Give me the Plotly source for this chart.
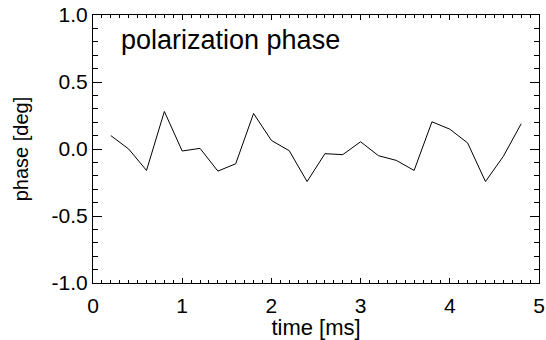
import plotly.graph_objects as go

time_ms = [0.2, 0.4, 0.6, 0.8, 1.0, 1.2, 1.4, 1.6, 1.8, 2.0, 2.2, 2.4,
           2.6, 2.8, 3.0, 3.2, 3.4, 3.6, 3.8, 4.0, 4.2, 4.4, 4.6, 4.8]
phase_deg = [0.10, 0.00, -0.16, 0.28, -0.015, 0.005, -0.165, -0.11, 0.265, 0.064, -0.013, -0.243,
             -0.035, -0.042, 0.054, -0.05, -0.085, -0.16, 0.203, 0.148, 0.045, -0.243, -0.055, 0.188]
x_ticks = [0, 1, 2, 3, 4, 5]
y_ticks = [-1.0, -0.5, 0.0, 0.5, 1.0]
y_tick_labels = ["-1.0", "-0.5", "0.0", "0.5", "1.0"]

FONT = "Liberation Sans, Arial, Helvetica, sans-serif"

fig = go.Figure()
fig.add_trace(go.Scatter(x=time_ms, y=phase_deg, mode="lines",
                         line=dict(color="black", width=1), showlegend=False))

fig.add_annotation(text="polarization phase", xref="paper", yref="paper",
                   x=0.058, y=0.905, xanchor="left", yanchor="middle",
                   showarrow=False, font=dict(family=FONT, size=27, color="black"))

fig.update_layout(
    width=546, height=340,
    margin=dict(l=93, r=7, t=15, b=57),
    paper_bgcolor="white", plot_bgcolor="white",
    font=dict(family=FONT, color="black"),
)
fig.update_xaxes(
    range=[0, 5], tickvals=x_ticks, ticks="inside", ticklen=5, tickwidth=1,
    tickcolor="black", showline=True, linecolor="black", linewidth=1,
    mirror="allticks", showgrid=False, zeroline=False, automargin=False,
    tickfont=dict(size=21, family=FONT), ticklabelstandoff=4,
    minor=dict(dtick=0.1, ticks="inside", ticklen=3, tickcolor="black", showgrid=False),
    title=dict(text="time [ms]", font=dict(size=22, family=FONT), standoff=5),
)
fig.update_yaxes(
    range=[-1, 1], tickvals=y_ticks, ticktext=y_tick_labels, ticks="inside",
    ticklen=9, tickwidth=1, tickcolor="black", showline=True, linecolor="black",
    linewidth=1, mirror="allticks", showgrid=False, zeroline=False, automargin=False,
    tickfont=dict(size=21, family=FONT), ticklabelstandoff=0,
    minor=dict(dtick=0.1, ticks="inside", ticklen=5, tickcolor="black", showgrid=False),
    title=dict(text="phase [deg]", font=dict(size=20, family=FONT), standoff=17),
)

fig.write_html("out.html", config={"displayModeBar": False},
               post_script="document.body.style.margin='0';")
